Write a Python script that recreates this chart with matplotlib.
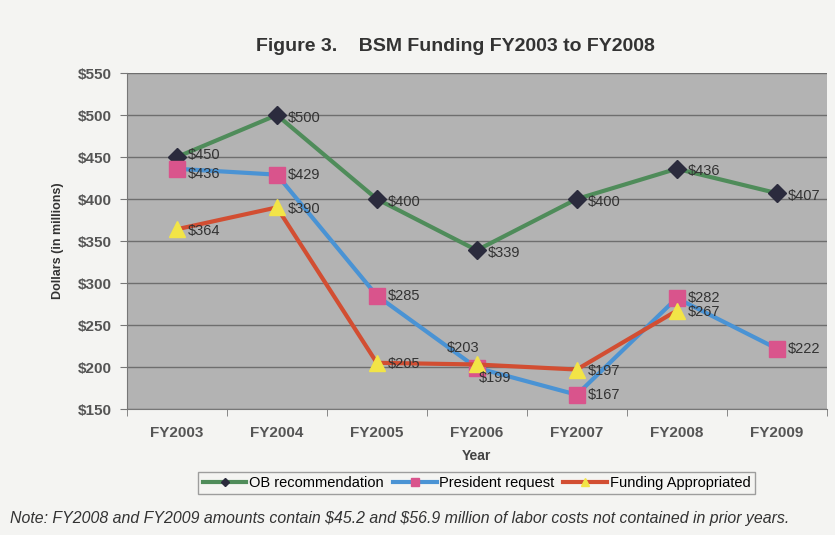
import matplotlib
matplotlib.use('Agg')
import matplotlib.pyplot as plt
import numpy as np

# data
years = ['FY2003', 'FY2004', 'FY2005', 'FY2006', 'FY2007', 'FY2008', 'FY2009']
ob_rec = [450, 500, 400, 339, 400, 436, 407]
pres_req = [436, 429, 285, 199, 167, 282, 222]
funding = [364, 390, 205, 203, 197, 267]
yticks = [150, 200, 250, 300, 350, 400, 450, 500, 550]

plt.rcParams['font.family'] = ['Liberation Sans', 'DejaVu Sans']

fig = plt.figure(figsize=(8.35, 5.35), dpi=100, facecolor='#f4f4f2')
ax = fig.add_axes([0.152, 0.2355, 0.838, 0.628])
ax.set_facecolor('#b3b3b3')

x = np.arange(len(years))
ax.plot(x, ob_rec, color='#4f8c5a', lw=3, marker='D', ms=9,
        mfc='#2b2b3d', mec='#2b2b3d', label='OB recommendation', zorder=3)
ax.plot(x, pres_req, color='#4a93d4', lw=3, marker='s', ms=11,
        mfc='#d9548c', mec='#d9548c', label='President request', zorder=4)
ax.plot(x[:len(funding)], funding, color='#d24e32', lw=3, marker='^', ms=12,
        mfc='#f2e447', mec='#f2e447', label='Funding Appropriated', zorder=5)

lab = dict(fontsize=10.5, color='#333333', va='center', zorder=6)
for i, v in enumerate(ob_rec):
    dy = 2 if i == 0 else -3
    ax.text(i + 0.11, v + dy, '$%d' % v, **lab)
for i, v in enumerate(pres_req):
    if i == 3:
        continue
    dy = -6 if i == 0 else 0
    ax.text(i + 0.11, v + dy, '$%d' % v, **lab)
ax.text(3 + 0.02, 168 + 19, '$199', **lab)
for i, v in enumerate(funding):
    if i == 3:
        ax.text(i - 0.3, v + 20, '$%d' % v, **lab)
    elif i == 5:
        ax.text(i + 0.11, v - 1, '$%d' % v, **lab)
    else:
        ax.text(i + 0.11, v - 2, '$%d' % v, **lab)

ax.set_xlim(-0.5, 6.5)
ax.set_ylim(150, 550)
ax.set_yticks(yticks)
ax.set_yticklabels(['$%d' % t for t in yticks], fontsize=11,
                   color='#555555', fontweight='bold')
ax.set_xticks(x)
ax.set_xticklabels(years, fontsize=11, color='#555555', fontweight='bold')
ax.tick_params(axis='x', length=0, pad=12)
ax.set_xticks(np.arange(-0.5, 7, 1), minor=True)
ax.tick_params(axis='x', which='minor', length=5, color='#777777')
ax.tick_params(axis='y', length=5, color='#777777', direction='out', pad=6)
ax.grid(axis='y', color='#6e6e6e', lw=1)
ax.set_axisbelow(True)
for s in ['top', 'right']:
    ax.spines[s].set_visible(False)
ax.spines['left'].set_color('#777777')
ax.spines['bottom'].set_color('#777777')

ax.set_ylabel('Dollars (in millions)', fontsize=9, fontweight='bold',
              color='#333333', labelpad=10)
ax.set_xlabel('Year', fontsize=10, fontweight='bold', color='#444444',
              labelpad=7)

fig.text(0.545, 0.905, 'Figure 3.    BSM Funding FY2003 to FY2008',
         ha='center', fontsize=14, fontweight='bold', color='#333333')

leg = ax.legend(loc='upper center', bbox_to_anchor=(0.5, -0.165), ncol=3,
                frameon=True, fancybox=False, fontsize=10.5, handlelength=3,
                columnspacing=0.6, handletextpad=0.2, borderpad=0.3,
                markerscale=0.5)
leg.get_frame().set_edgecolor('#888888')
leg.get_frame().set_facecolor('#f4f4f2')

fig.text(0.012, 0.022, r'Note: FY2008 and FY2009 amounts contain \$45.2 and \$56.9 million '
         'of labor costs not contained in prior years.',
         fontsize=11.4, style='italic', color='#333333')

fig.savefig('out.png', dpi=100, facecolor=fig.get_facecolor())
